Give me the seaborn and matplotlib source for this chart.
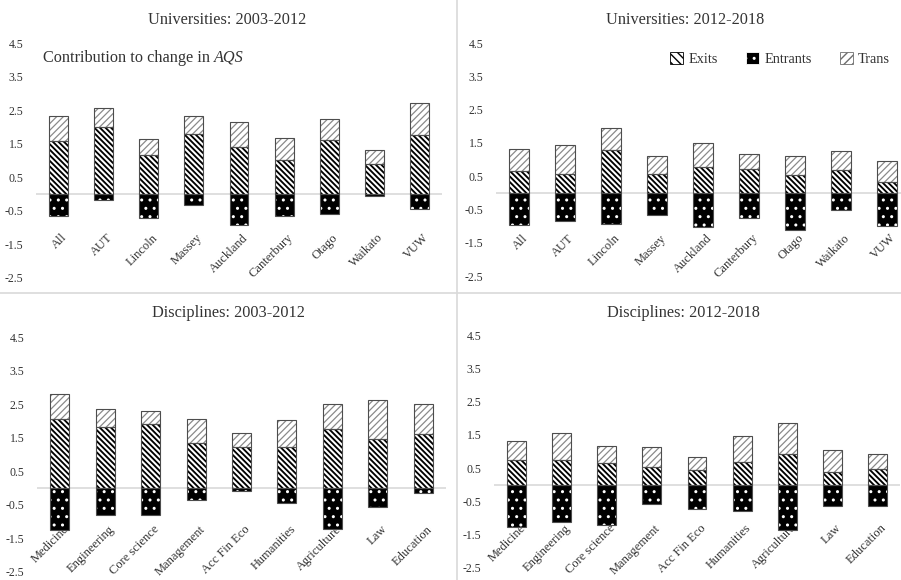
import matplotlib
matplotlib.use("Agg")
import matplotlib.pyplot as plt
import numpy as np
import pandas as pd
import seaborn as sns
from matplotlib.lines import Line2D
from matplotlib.patches import Patch

# ---- data -------------------------------------------------------------
universities = ["All", "AUT", "Lincoln", "Massey", "Auckland", "Canterbury",
                "Otago", "Waikato", "VUW"]
disciplines = ["Medicine", "Engineering", "Core science", "Management",
               "Acc Fin Eco", "Humanities", "Agriculture", "Law", "Education"]

uni_0312_exits = [1.58, 2.01, 1.16, 1.79, 1.40, 1.02, 1.62, 0.89, 1.75]
uni_0312_entrants = [-0.65, -0.17, -0.70, -0.33, -0.93, -0.65, -0.59, -0.05, -0.45]
uni_0312_trans = [0.75, 0.54, 0.48, 0.54, 0.76, 0.65, 0.63, 0.41, 0.95]

uni_1218_exits = [0.64, 0.57, 1.29, 0.55, 0.76, 0.70, 0.53, 0.69, 0.33]
uni_1218_entrants = [-0.96, -0.86, -0.94, -0.66, -1.02, -0.76, -1.12, -0.53, -1.01]
uni_1218_trans = [0.67, 0.87, 0.65, 0.56, 0.75, 0.48, 0.58, 0.57, 0.63]

dis_0312_exits = [2.06, 1.83, 1.91, 1.34, 1.23, 1.23, 1.77, 1.45, 1.62]
dis_0312_entrants = [-1.24, -0.79, -0.79, -0.37, -0.08, -0.44, -1.23, -0.57, -0.16]
dis_0312_trans = [0.74, 0.53, 0.38, 0.73, 0.41, 0.79, 0.72, 1.16, 0.87]

dis_1218_exits = [0.73, 0.73, 0.66, 0.52, 0.43, 0.67, 0.92, 0.39, 0.46]
dis_1218_entrants = [-1.28, -1.13, -1.20, -0.57, -0.72, -0.79, -1.37, -0.64, -0.64]
dis_1218_trans = [0.59, 0.83, 0.52, 0.61, 0.39, 0.81, 0.95, 0.66, 0.46]

y_ticks = [-2.5, -1.5, -0.5, 0.5, 1.5, 2.5, 3.5, 4.5]
series_names = ["Exits", "Entrants", "Trans"]

# ---- style ------------------------------------------------------------
sns.set_theme(style="white")
plt.rcParams["font.family"] = ["Liberation Serif", "DejaVu Serif"]
plt.rcParams["axes.unicode_minus"] = False

TEXT = "#333333"
OUTLINE = "#4d4d4d"
GRID = "#d9d9d9"
EXIT_HATCH = "\\" * 6
TRANS_HATCH = "/" * 5
TRANS_LINE = "#8a8a8a"
ENTR_HATCH = ".."
BAR_W = 0.42

W, H = 901, 580
fig = plt.figure(figsize=(W / 100, H / 100), dpi=100)
fig.patch.set_facecolor("white")


def px_axes(left, right, top, bottom):
    return fig.add_axes([left / W, 1 - bottom / H, (right - left) / W, (bottom - top) / H])


def set_hatch_lw(patches, lw):
    for p in patches:
        if hasattr(p, "set_hatch_linewidth"):
            p.set_hatch_linewidth(lw)


def layer(ax, df, col, bottom, color, hatch_color, hatch, hatch_lw):
    n0 = len(ax.patches)
    kws = dict(bottom=bottom) if bottom is not None else {}
    sns.barplot(data=df, x="cat", y=col, order=list(df["cat"]), color=color,
                saturation=1, width=BAR_W, errorbar=None, edgecolor=hatch_color,
                linewidth=0, hatch=hatch, ax=ax, zorder=2, **kws)
    set_hatch_lw(ax.patches[n0:], hatch_lw)
    # thin outline drawn over the hatched fill
    sns.barplot(data=df, x="cat", y=col, order=list(df["cat"]), color=OUTLINE,
                saturation=1, width=BAR_W, errorbar=None, fill=False,
                linewidth=0.8, ax=ax, zorder=3, **kws)


def panel(ax, cats, exits, entrants, trans, label_y):
    df = pd.DataFrame({"cat": cats, "exits": exits,
                       "entrants": entrants, "trans": trans})
    ax.axhline(0, color=GRID, lw=1.2, zorder=1)
    layer(ax, df, "exits", None, "white", "black", EXIT_HATCH, 1.35)
    layer(ax, df, "trans", np.asarray(exits), "white", TRANS_LINE, TRANS_HATCH, 0.9)
    layer(ax, df, "entrants", None, "black", "white", ENTR_HATCH, 1.0)

    ax.set_xlim(-0.5, len(cats) - 0.5)
    ax.set_ylim(-2.5, 4.5)
    ax.set_yticks(y_ticks)
    ax.set_yticklabels([f"{v:.1f}" for v in y_ticks], fontsize=8.5, color=TEXT)
    ax.tick_params(axis="y", length=0, pad=9)
    ax.set_xticks([])
    ax.set_xlabel("")
    ax.set_ylabel("")
    for s in ax.spines.values():
        s.set_visible(False)
    ax.set_facecolor("none")
    for i, c in enumerate(cats):
        ax.text(i + 0.06, label_y, c, rotation=45, ha="right", va="top",
                rotation_mode="anchor", fontsize=9, color=TEXT, zorder=0.5)


ax1 = px_axes(36, 442, 43, 278)
ax2 = px_axes(496, 910, 43, 276)
ax3 = px_axes(37, 446, 337, 572)
ax4 = px_axes(494, 900, 335, 568)

panel(ax1, universities, uni_0312_exits, uni_0312_entrants, uni_0312_trans, -1.12)
panel(ax2, universities, uni_1218_exits, uni_1218_entrants, uni_1218_trans, -1.18)
panel(ax3, disciplines, dis_0312_exits, dis_0312_entrants, dis_0312_trans, -1.05)
panel(ax4, disciplines, dis_1218_exits, dis_1218_entrants, dis_1218_trans, -1.12)

# ---- titles -----------------------------------------------------------
title_kw = dict(ha="center", va="center", fontsize=11.7, color=TEXT)
fig.text(227 / W, 1 - 20.5 / H, "Universities: 2003-2012", **title_kw)
fig.text(685 / W, 1 - 20.5 / H, "Universities: 2012-2018", **title_kw)
fig.text(228 / W, 1 - 313 / H, "Disciplines: 2003-2012", **title_kw)
fig.text(683 / W, 1 - 313 / H, "Disciplines: 2012-2018", **title_kw)

sub = fig.text(43 / W, 1 - 62 / H, "Contribution to change in ", ha="left",
               va="baseline", fontsize=11.7, color=TEXT)
ax1.annotate("AQS", xy=(1, 0), xycoords=sub, ha="left", va="bottom",
             fontsize=11.7, color=TEXT, style="italic", annotation_clip=False)

# ---- legend -----------------------------------------------------------
handles = [
    Patch(facecolor="white", edgecolor="black", hatch="\\" * 4, linewidth=0.6),
    Patch(facecolor="black", edgecolor="white", hatch="..", linewidth=0.6),
    Patch(facecolor="white", edgecolor="#6e6e6e", hatch="/" * 4, linewidth=0.6),
]
leg = fig.legend(handles, series_names, loc="center right",
                 bbox_to_anchor=(890 / W, 1 - 59 / H), ncol=3, frameon=False,
                 fontsize=10.3, handlelength=0.9, handleheight=0.9,
                 handletextpad=0.35, columnspacing=2.0, borderpad=0,
                 borderaxespad=0)
for t in leg.get_texts():
    t.set_color(TEXT)

# ---- panel separators -------------------------------------------------
fig.add_artist(Line2D([457 / W, 457 / W], [0, 1], color=GRID, lw=1.2))
fig.add_artist(Line2D([0, 1], [1 - 292.5 / H, 1 - 292.5 / H], color=GRID, lw=1.2))

fig.savefig("out.png", dpi=100, facecolor="white")
